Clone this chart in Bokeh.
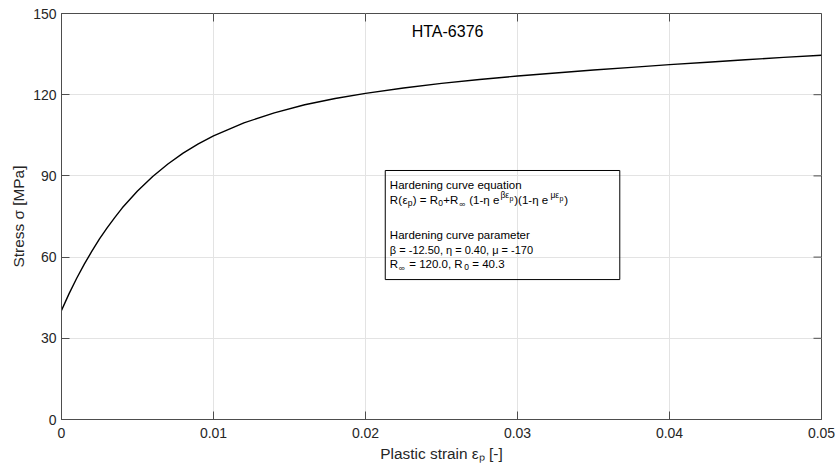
from bokeh.plotting import figure
from bokeh.models import Range1d, FixedTicker, Label, BoxAnnotation, ColumnDataSource
from bokeh.embed import file_html
from bokeh.resources import INLINE

# ---- data ----
strain = [0.0, 0.0005, 0.001, 0.0015, 0.002, 0.0025, 0.003, 0.0035, 0.004, 0.005,
          0.006, 0.007, 0.008, 0.009, 0.010, 0.012, 0.014, 0.016, 0.018, 0.020,
          0.0225, 0.025, 0.0275, 0.030, 0.0325, 0.035, 0.0375, 0.040, 0.0425,
          0.045, 0.0475, 0.050]
stress = [40.3, 46.5, 52.2, 57.4, 62.2, 66.7, 70.8, 74.6, 78.2, 84.4,
          89.8, 94.4, 98.4, 101.8, 104.8, 109.6, 113.3, 116.3, 118.6, 120.5,
          122.5, 124.2, 125.6, 126.9, 128.0, 129.1, 130.1, 131.1, 132.0,
          132.9, 133.8, 134.6]
x_ticks = [0, 0.01, 0.02, 0.03, 0.04, 0.05]
x_tick_labels = ["0", "0.01", "0.02", "0.03", "0.04", "0.05"]
y_ticks = [0, 30, 60, 90, 120, 150]
y_tick_labels = ["0", "30", "60", "90", "120", "150"]

FONT = "Liberation Sans"
TXT = "#262626"
AX = "#4d4d4d"

X0, X1, Y0, Y1 = 0, 0.05, 0, 150
FW, FH = 760, 406
p = figure(width=835, height=472, x_range=Range1d(X0, X1), y_range=Range1d(Y0, Y1),
           output_backend="svg", toolbar_location=None,
           min_border_left=61, min_border_right=14, min_border_top=13, min_border_bottom=53)
p.background_fill_color = "white"
p.border_fill_color = "white"
p.outline_line_color = AX
p.outline_line_width = 1

src = ColumnDataSource(dict(x=strain, y=stress))
p.line("x", "y", source=src, line_color="black", line_width=1.4)

# axes
for ax in (p.xaxis[0], p.yaxis[0]):
    ax.major_tick_in = 8
    ax.major_tick_out = 0
    ax.minor_tick_in = 0
    ax.minor_tick_out = 0
    ax.axis_line_color = AX
    ax.major_tick_line_color = AX
    ax.major_label_text_font = FONT
    ax.major_label_text_font_size = "14px"
    ax.major_label_text_color = TXT
    ax.axis_label_text_font = FONT
    ax.axis_label_text_font_size = "15.4px"
    ax.axis_label_text_font_style = "normal"
    ax.axis_label_text_color = TXT

p.xaxis[0].ticker = FixedTicker(ticks=x_ticks)
p.xaxis[0].major_label_overrides = {t: l for t, l in zip(x_ticks, x_tick_labels)}
p.xaxis[0].major_label_standoff = 8
p.xaxis[0].axis_label = "Plastic strain \u03b5\u209a [-]"
p.xaxis[0].axis_label_standoff = 4

p.yaxis[0].ticker = FixedTicker(ticks=y_ticks)
p.yaxis[0].major_label_overrides = {t: l for t, l in zip(y_ticks, y_tick_labels)}
p.yaxis[0].major_label_standoff = 5
p.yaxis[0].axis_label = "Stress \u03c3 [MPa]"
p.yaxis[0].axis_label_standoff = 3

# mirrored inward ticks on top / right edges (8 px long)
ty = 8 * (Y1 - Y0) / FH
tx = 8 * (X1 - X0) / FW
p.segment(x0=x_ticks, y0=[Y1] * len(x_ticks), x1=x_ticks, y1=[Y1 - ty] * len(x_ticks),
          line_color=AX, line_width=1)
p.segment(x0=[X1] * len(y_ticks), y0=y_ticks, x1=[X1 - tx] * len(y_ticks), y1=y_ticks,
          line_color=AX, line_width=1)

p.xgrid.ticker = FixedTicker(ticks=x_ticks)
p.ygrid.ticker = FixedTicker(ticks=y_ticks)
p.xgrid.grid_line_color = "#e3e3e3"
p.ygrid.grid_line_color = "#e3e3e3"

# title inside the axes
p.add_layout(Label(x=0.0254, y=143.5, text="HTA-6376", text_font=FONT, text_font_size="16px",
                   text_color="black", text_align="center", text_baseline="middle"))

# annotation box
bl, br, bt, bb = 0.0213, 0.03673, 92.0, 51.7
p.add_layout(BoxAnnotation(left=bl, right=br, top=bt, bottom=bb, fill_alpha=0,
                           line_color="black", line_width=1, line_alpha=1))

def seg(text, dx, dy, size="11.5px", style="normal"):
    p.add_layout(Label(x=bl, y=bt, x_offset=dx, y_offset=dy, text=text, text_font=FONT,
                       text_font_size=size, text_font_style=style, text_color="black",
                       text_align="left", text_baseline="alphabetic"))

SUB = "8.5px"
seg("Hardening curve equation", 4.6, -15)
# line 2: R(eps_p) = R_0+R_inf (1-eta e^{beta eps_p})(1-eta e^{mu eps_p})
L2 = -30
seg("R(", 4.6, L2)
seg("\u03b5", 17.2, L2)
seg("p", 22.6, L2 - 3, SUB)
seg(") = R", 27.5, L2)
seg("0", 53.0, L2 - 3, SUB)
seg("+R", 58.0, L2)
seg("\u221e", 74.0, L2 - 4, SUB)
seg("(1-\u03b7 e", 84.0, L2)
seg("\u03b2\u03b5", 115.2, L2 + 5, SUB)
seg("p", 124.2, L2 + 2, "7px")
seg(")(1-\u03b7 e", 129.0, L2)
seg("\u03bc\u03b5", 165.2, L2 + 5, SUB)
seg("p", 174.2, L2 + 2, "7px")
seg(")", 179.0, L2)

seg("Hardening curve parameter", 4.6, -65)
seg("\u03b2 = -12.50, \u03b7 = 0.40, \u03bc = -170", 4.6, -80, "11px")
L6 = -93.3
seg("R", 4.6, L6)
seg("\u221e", 13.5, L6 - 4, SUB)
seg("= 120.0, R", 24.0, L6)
seg("0", 79.0, L6 - 3, SUB)
seg("= 40.3", 87.0, L6)

open("out.html", "w").write(file_html(p, INLINE))
